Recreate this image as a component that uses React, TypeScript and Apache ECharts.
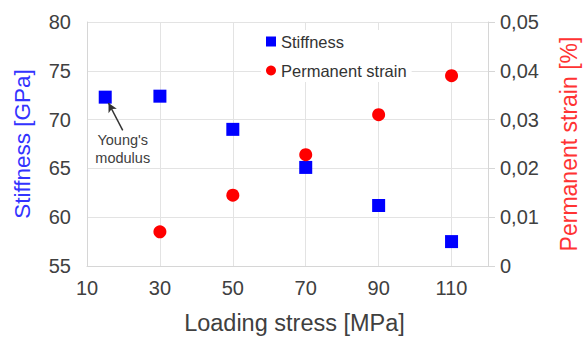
import React, { useEffect, useRef } from "react";
import * as echarts from "echarts";

const loadingStress = [15, 30, 50, 70, 90, 110];
const stiffness = [72.3, 72.4, 69.0, 65.1, 61.2, 57.5];
const strainStress = [30, 50, 70, 90, 110];
const permanentStrain = [0.007, 0.0145, 0.0228, 0.031, 0.039];
const xGridValues = [30, 50, 70, 90, 110];
const xLabelValues = [10, 30, 50, 70, 90, 110];

const FONT = "Liberation Sans, Arial, sans-serif";
const GRID_COLOR = "#e3e3e3";
const TEXT_COLOR = "#404040";

export default function App() {
  const ref = useRef<HTMLDivElement>(null);
  useEffect(() => {
    if (!ref.current) return;
    const chart = echarts.init(ref.current, null, { renderer: "svg" });
    chart.setOption({
      animation: false,
      textStyle: { fontFamily: FONT },
      grid: { left: 87, right: 95, top: 22, bottom: 70, containLabel: false },
      legend: {
        orient: "vertical",
        left: 261,
        top: 30,
        itemWidth: 10,
        itemHeight: 10,
        itemGap: 12,
        padding: [3, 5],
        backgroundColor: "#ffffff",
        textStyle: { fontSize: 16.5, color: "#333", fontFamily: FONT },
        data: [
          { name: "Stiffness", icon: "rect" },
          { name: "Permanent strain", icon: "circle" },
        ],
      },
      xAxis: {
        type: "value",
        min: 10,
        max: 120,
        interval: 10,
        name: "Loading stress [MPa]",
        nameLocation: "middle",
        nameGap: 45,
        nameTextStyle: { fontSize: 23.5, color: TEXT_COLOR, fontFamily: FONT, padding: [0, 0, 0, 14] },
        axisLine: { show: true, lineStyle: { color: "#d6d6d6" } },
        axisTick: { show: false },
        splitLine: { show: false },
        axisLabel: {
          fontSize: 20,
          color: TEXT_COLOR,
          margin: 12,
          formatter: (v: number) => (xLabelValues.includes(v) ? String(v) : ""),
        },
      },
      yAxis: [
        {
          type: "value",
          min: 55,
          max: 80,
          interval: 5,
          position: "left",
          name: "Stiffness [GPa]",
          nameLocation: "middle",
          nameGap: 53,
          nameTextStyle: { fontSize: 22.5, color: "#3333ff", fontFamily: FONT },
          axisLine: { show: true, lineStyle: { color: "#d6d6d6" } },
          axisTick: { show: false },
          axisLabel: { fontSize: 20, color: TEXT_COLOR, margin: 16 },
          splitLine: { show: true, lineStyle: { color: GRID_COLOR } },
        },
        {
          type: "value",
          min: 0,
          max: 0.05,
          interval: 0.01,
          position: "right",
          name: "Permanent strain [%]",
          nameLocation: "middle",
          nameGap: 69,
          nameTextStyle: { fontSize: 23, color: "#ff3333", fontFamily: FONT },
          axisLine: { show: true, lineStyle: { color: "#d6d6d6" } },
          axisTick: { show: true, length: 7, lineStyle: { color: "#d6d6d6" } },
          axisLabel: {
            fontSize: 20,
            color: TEXT_COLOR,
            margin: 12,
            formatter: (v: number) => (v === 0 ? "0" : v.toFixed(2).replace(".", ",")),
          },
          splitLine: { show: false },
        },
      ],
      series: [
        {
          name: "vgrid",
          type: "line",
          data: [],
          silent: true,
          markLine: {
            silent: true,
            z: 1,
            symbol: ["none", "none"],
            label: { show: false },
            lineStyle: { color: GRID_COLOR, type: "solid", width: 1 },
            data: xGridValues.map((v) => ({ xAxis: v })),
          },
        },
        {
          name: "Stiffness",
          type: "scatter",
          yAxisIndex: 0,
          symbol: "rect",
          symbolSize: 13,
          itemStyle: { color: "#0000ff", opacity: 1 },
          data: loadingStress.map((x, i) => [x, stiffness[i]]),
          markLine: {
            silent: true,
            z: 6,
            symbol: ["none", "arrow"],
            symbolSize: [7, 9],
            label: { show: false },
            lineStyle: { color: "#333", type: "solid", width: 1.5 },
            data: [[{ coord: [19.8, 68.9] }, { coord: [15.9, 71.7] }]],
          },
          markPoint: {
            silent: true,
            symbol: "circle",
            symbolSize: 1,
            itemStyle: { color: "rgba(0,0,0,0)" },
            label: {
              show: true,
              position: "inside",
              formatter: "Young's\nmodulus",
              fontSize: 14.5,
              lineHeight: 18,
              color: "#404040",
              fontFamily: FONT,
            },
            data: [{ coord: [19.8, 67.0] }],
          },
        },
        {
          name: "Permanent strain",
          type: "scatter",
          yAxisIndex: 1,
          symbol: "circle",
          symbolSize: 13,
          itemStyle: { color: "#ff0000", opacity: 1 },
          data: strainStress.map((x, i) => [x, permanentStrain[i]]),
        },
      ],
    });
    return () => chart.dispose();
  }, []);
  return (
    <div
      ref={ref}
      style={{ position: "absolute", left: 0, top: 0, width: 588, height: 340, background: "#fff" }}
    />
  );
}
